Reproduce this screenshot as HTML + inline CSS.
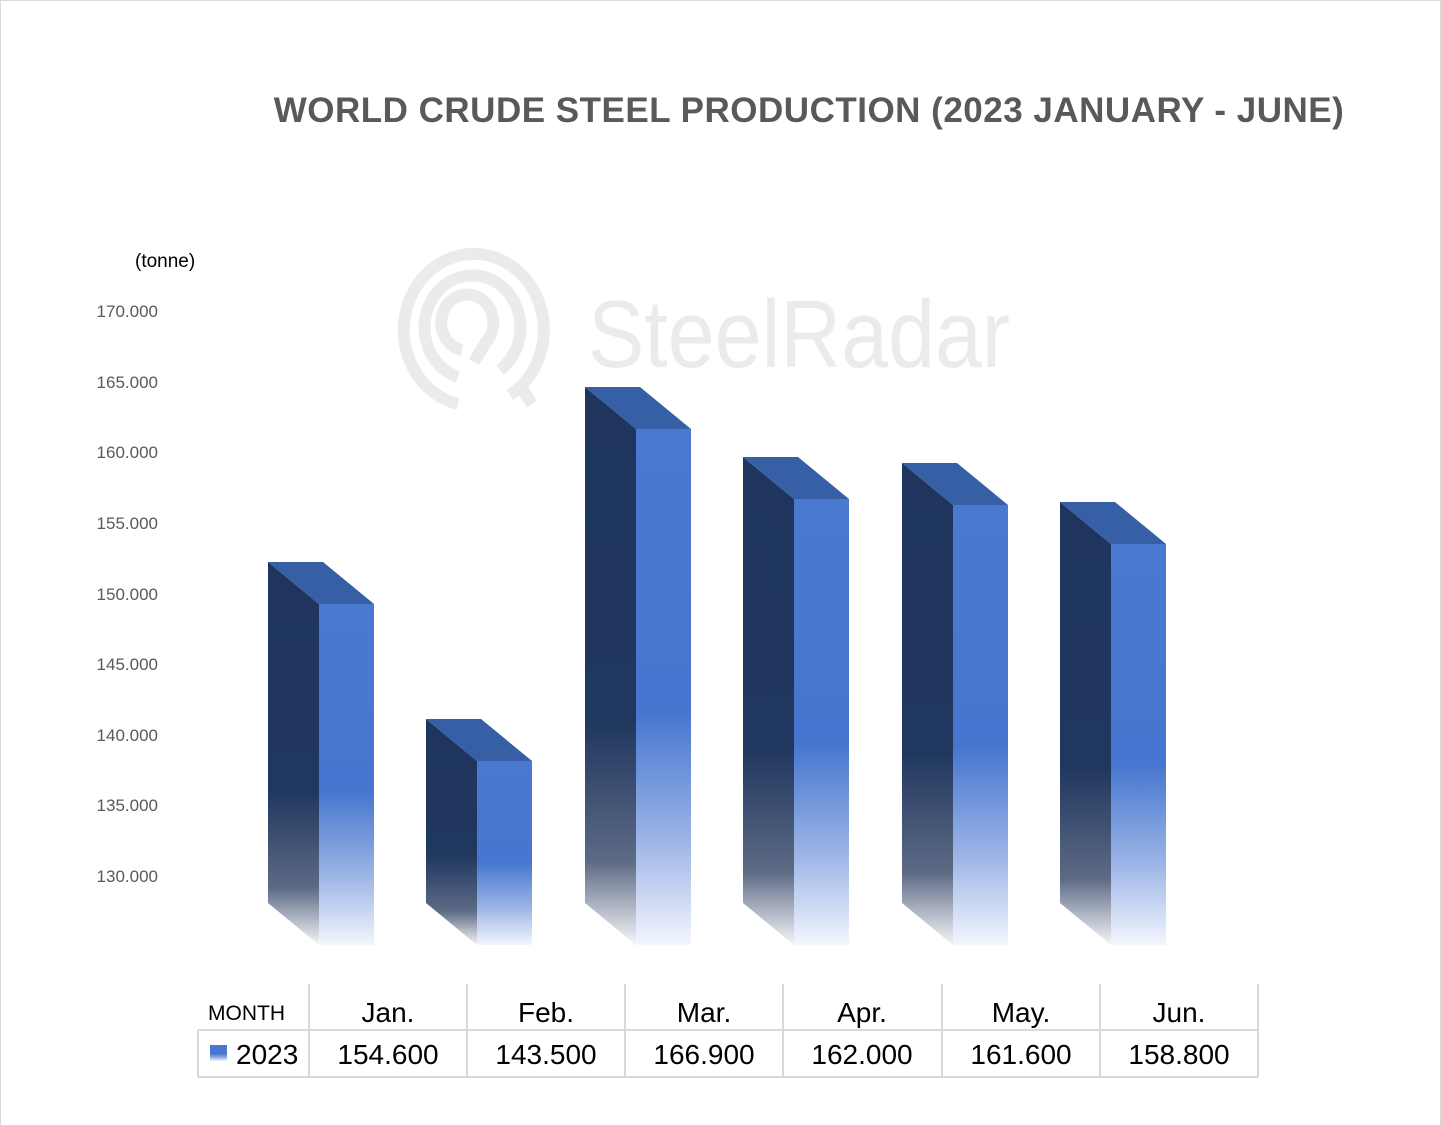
<!DOCTYPE html>
<html><head><meta charset="utf-8"><style>
html,body{margin:0;padding:0;background:#fff}
svg{display:block}
text{font-family:"Liberation Sans",sans-serif}
</style></head><body>
<svg width="1441" height="1126" viewBox="0 0 1441 1126" xmlns="http://www.w3.org/2000/svg">
<defs>
<linearGradient id="fr" x1="0" y1="0" x2="0" y2="1">
<stop offset="0" stop-color="#4a79d0"/><stop offset="0.55" stop-color="#4676cf"/><stop offset="0.8" stop-color="#9db5e6"/><stop offset="1" stop-color="#f3f6fd"/></linearGradient>
<linearGradient id="sd" x1="0" y1="0" x2="0" y2="1">
<stop offset="0" stop-color="#1f355e"/><stop offset="0.6" stop-color="#20375f"/><stop offset="0.85" stop-color="#5d6a85"/><stop offset="1" stop-color="#f4f5f8"/></linearGradient>
</defs>
<rect x="0.5" y="0.5" width="1440" height="1125" fill="#fff" stroke="#d9d9d9"/>
<text x="809" y="122" text-anchor="middle" font-size="35" font-weight="bold" fill="#595959" letter-spacing="0.5">WORLD CRUDE STEEL PRODUCTION (2023 JANUARY - JUNE)</text>
<!-- watermark -->
<g fill="none" stroke="#ebebeb" stroke-width="12">
<path d="M458 404 A70 76 0 1 1 510 395"/>
<path d="M458 377 A48 52 0 1 1 500 370"/>
<path d="M462 350 A26 28 0 1 1 486 342 L474 362"/>
<path d="M519 384 L532 404"/>
</g>
<text x="588" y="367" font-size="96" fill="#ebebeb" textLength="422" lengthAdjust="spacingAndGlyphs">SteelRadar</text>
<text x="135" y="267" font-size="19" fill="#000">(tonne)</text>
<g font-size="17" fill="#595959" text-anchor="end">
<text x="158" y="317">170.000</text><text x="158" y="388">165.000</text><text x="158" y="458">160.000</text><text x="158" y="529">155.000</text><text x="158" y="600">150.000</text><text x="158" y="670">145.000</text><text x="158" y="741">140.000</text><text x="158" y="811">135.000</text><text x="158" y="882">130.000</text>
</g>
<!-- bars -->
<g>
<polygon points="268,562 319,604 319,945 268,903" fill="url(#sd)"/><polygon points="268,562 323,562 374,604 319,604" fill="#365fa5"/><rect x="319" y="604" width="55" height="341" fill="url(#fr)"/>
<polygon points="426,719 477,761 477,945 426,903" fill="url(#sd)"/><polygon points="426,719 481,719 532,761 477,761" fill="#365fa5"/><rect x="477" y="761" width="55" height="184" fill="url(#fr)"/>
<polygon points="585,387 636,429 636,945 585,903" fill="url(#sd)"/><polygon points="585,387 640,387 691,429 636,429" fill="#365fa5"/><rect x="636" y="429" width="55" height="516" fill="url(#fr)"/>
<polygon points="743,457 794,499 794,945 743,903" fill="url(#sd)"/><polygon points="743,457 798,457 849,499 794,499" fill="#365fa5"/><rect x="794" y="499" width="55" height="446" fill="url(#fr)"/>
<polygon points="902,463 953,505 953,945 902,903" fill="url(#sd)"/><polygon points="902,463 957,463 1008,505 953,505" fill="#365fa5"/><rect x="953" y="505" width="55" height="440" fill="url(#fr)"/>
<polygon points="1060,502 1111,544 1111,945 1060,903" fill="url(#sd)"/><polygon points="1060,502 1115,502 1166,544 1111,544" fill="#365fa5"/><rect x="1111" y="544" width="55" height="401" fill="url(#fr)"/>
</g>
<!-- table -->
<g stroke="#d9d9d9" stroke-width="2" fill="none">
<path d="M198 1030 H1258 M198 1077 H1258 M198 1030 V1077"/>
<path d="M309 984 V1077 M467 984 V1077 M625 984 V1077 M783 984 V1077 M942 984 V1077 M1100 984 V1077 M1258 984 V1077"/>
</g>
<text x="208" y="1020" font-size="21" fill="#000">MONTH</text>
<g font-size="28" fill="#000" text-anchor="middle">
<text x="388" y="1022">Jan.</text><text x="546" y="1022">Feb.</text><text x="704" y="1022">Mar.</text><text x="862" y="1022">Apr.</text><text x="1021" y="1022">May.</text><text x="1179" y="1022">Jun.</text>
<text x="388" y="1064">154.600</text><text x="546" y="1064">143.500</text><text x="704" y="1064">166.900</text><text x="862" y="1064">162.000</text><text x="1021" y="1064">161.600</text><text x="1179" y="1064">158.800</text>
</g>
<rect x="210" y="1045" width="17" height="16" fill="url(#fr)"/>
<text x="236" y="1064" font-size="28" fill="#000">2023</text>
</svg>
</body></html>
